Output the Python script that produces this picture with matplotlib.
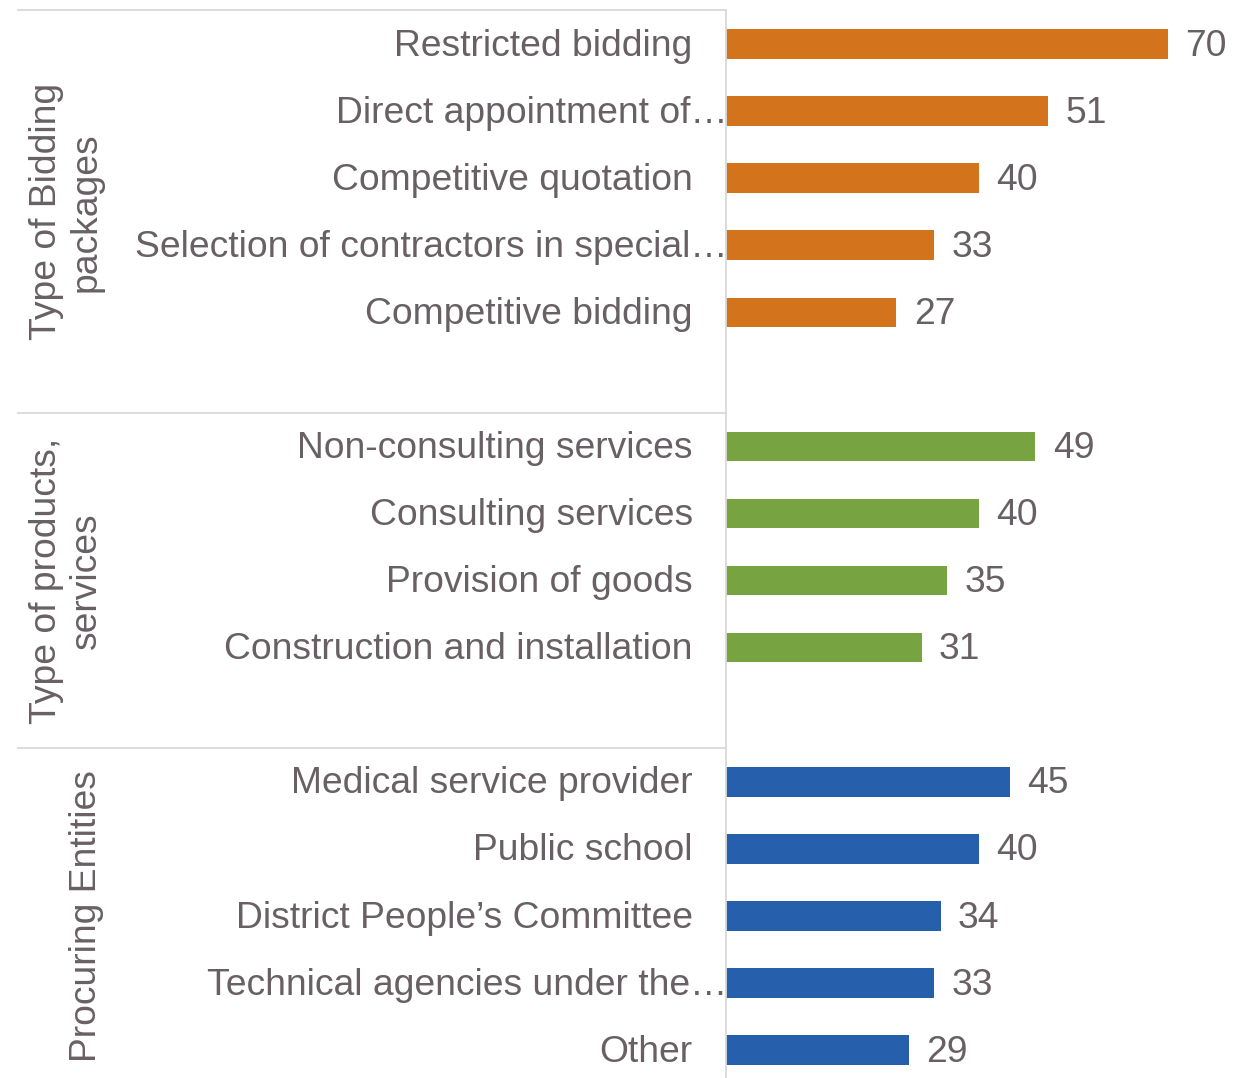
import matplotlib.pyplot as plt
import matplotlib.transforms as mtrans

plt.rcParams['font.family'] = ['Liberation Sans', 'DejaVu Sans']

# survey counts by group
bidding_labels = ["Restricted bidding", "Direct appointment of\u2026", "Competitive quotation",
                  "Selection of contractors in special\u2026", "Competitive bidding"]
bidding_values = [70, 51, 40, 33, 27]

products_labels = ["Non-consulting services", "Consulting services", "Provision of goods",
                   "Construction and installation"]
products_values = [49, 40, 35, 31]

entity_labels = ["Medical service provider", "Public school", "District People\u2019s Committee",
                 "Technical agencies under the\u2026", "Other"]
entity_values = [45, 40, 34, 33, 29]

group_names = ["Type of Bidding\npackages", "Type of products,\nservices", "Procuring Entities"]

groups = [(bidding_labels, bidding_values, '#d3741c'),
          (products_labels, products_values, '#77a440'),
          (entity_labels, entity_values, '#2660ad')]

txt_color = '#686064'
line_color = '#d9d9d9'
fs = 26.8

W, H = 1233, 1078
fig = plt.figure(figsize=(W / 100, H / 100), dpi=100)
ax_left = 726 / W
ax_width = 505 / W
ax_top = 1 - 10.5 / H
ax_bottom = 1 - 1083.6 / H
ax = fig.add_axes([ax_left, ax_bottom, ax_width, ax_top - ax_bottom])

# one slot per bar plus an empty slot after each of the first two groups
pos = 0
bounds = [-0.5]
for gi, (labels, values, color) in enumerate(groups):
    ys = list(range(pos, pos + len(labels)))
    ax.barh(ys, values, height=0.44, color=color)
    for y, lab, v in zip(ys, labels, values):
        if lab.endswith('\u2026'):
            off = 1
        else:
            off = -24
        ax.annotate(lab, xy=(0, y), xytext=(off, -1.5), textcoords='offset points',
                    ha='right', va='center', fontsize=fs, color=txt_color,
                    annotation_clip=False)
        ax.annotate(str(v), xy=(v, y), xytext=(12.5, -1.5), textcoords='offset points',
                    ha='left', va='center', fontsize=fs, color=txt_color,
                    annotation_clip=False)
    pos += len(labels)
    if gi < 2:
        pos += 1
        bounds.append(pos - 0.5)
    group_mid = (bounds[-2] + pos - 0.5) / 2 if gi < 2 else (bounds[-1] + 15.5) / 2
    tr = mtrans.blended_transform_factory(fig.transFigure, ax.transData)
    fig.text(104 / W, group_mid, group_names[gi], transform=tr, rotation=90,
             ha='right', va='center', multialignment='center',
             fontsize=fs, color=txt_color)

ax.set_xlim(0, 80)
ax.set_ylim(15.5, -0.5)

# separators between category groups
tr = mtrans.blended_transform_factory(fig.transFigure, ax.transData)
for b in bounds:
    ax.plot([18 / W, ax_left], [b, b], transform=tr, color=line_color,
            lw=1.3, clip_on=False)

for s in ['top', 'right', 'bottom']:
    ax.spines[s].set_visible(False)
ax.spines['left'].set_color(line_color)
ax.spines['left'].set_linewidth(1.3)
ax.set_xticks([])
ax.set_yticks([])

fig.savefig('out.png', dpi=100)
